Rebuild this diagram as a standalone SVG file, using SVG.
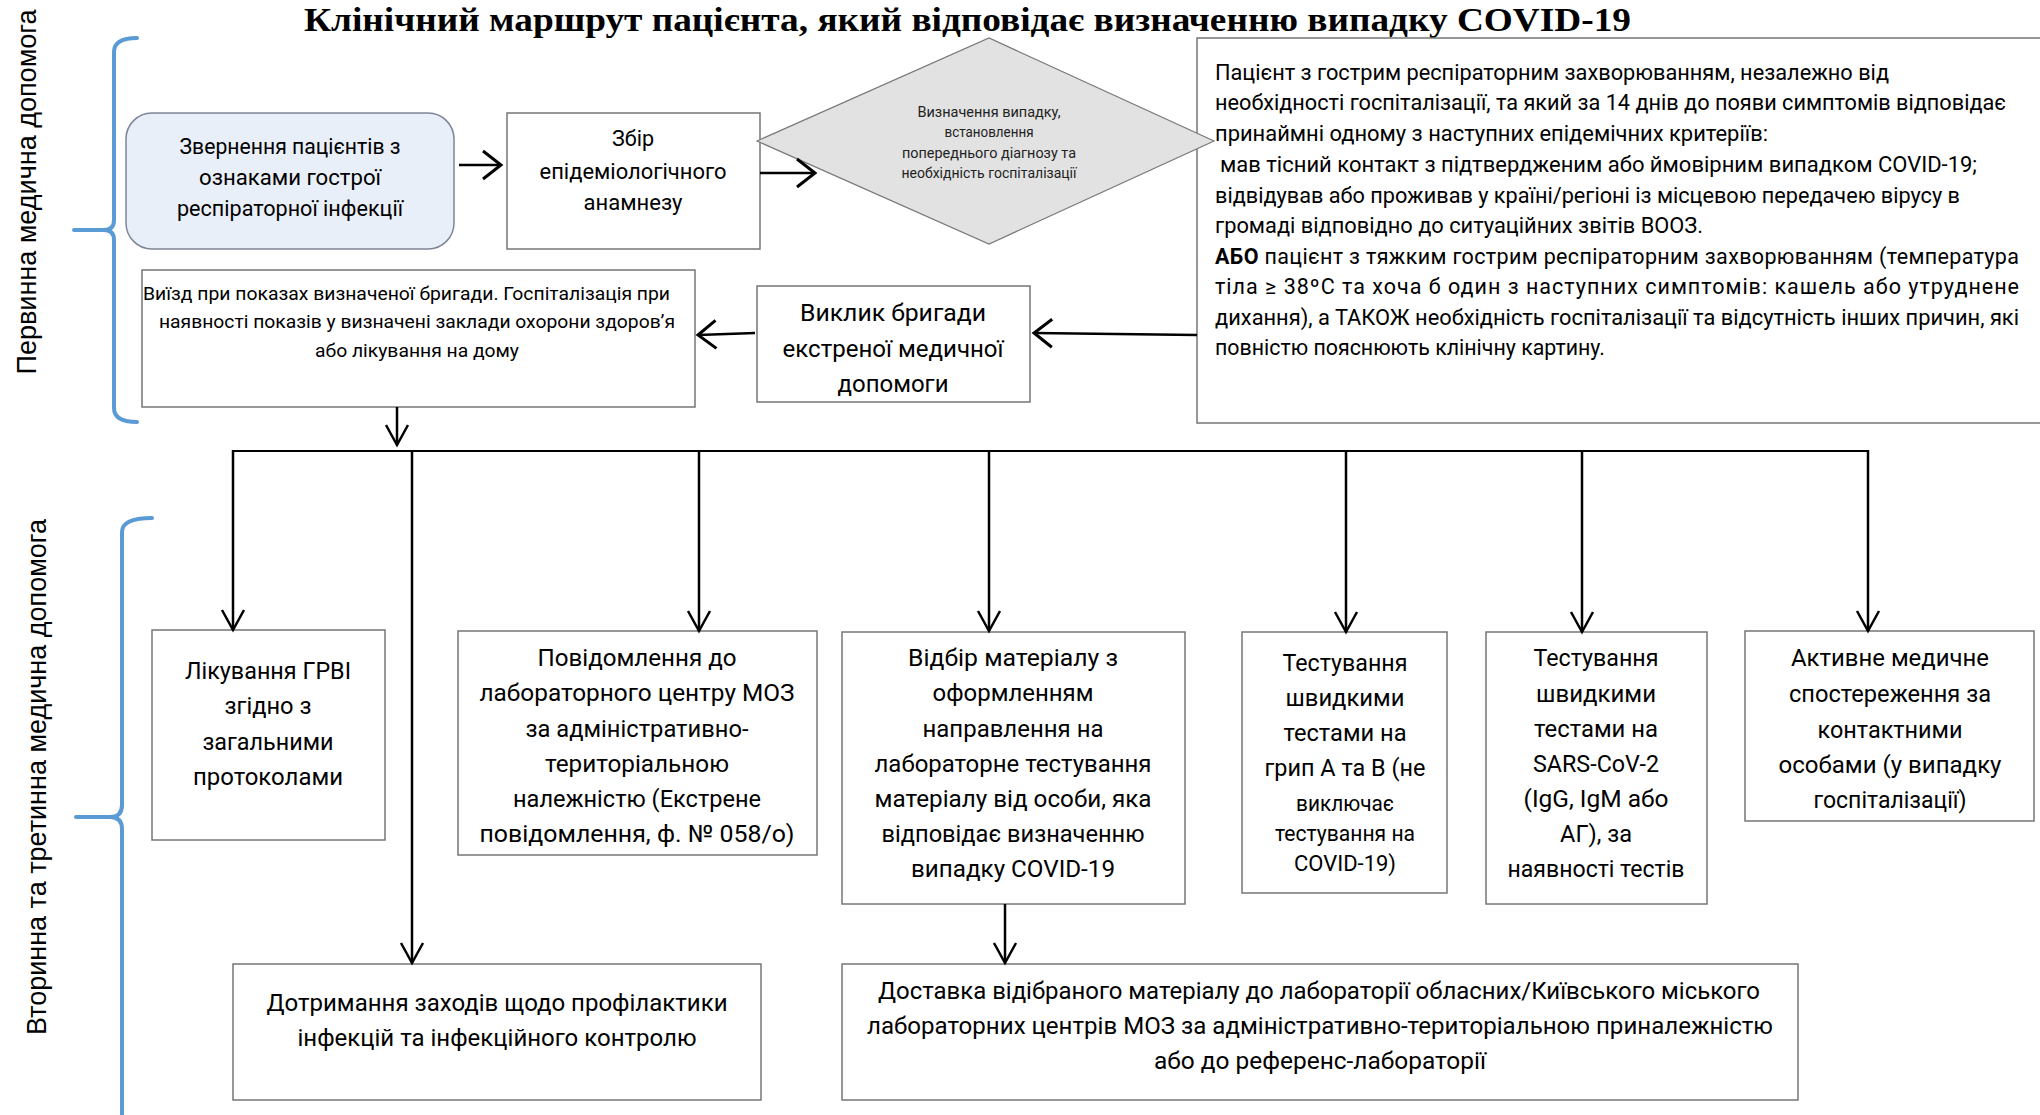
<svg xmlns="http://www.w3.org/2000/svg" width="2040" height="1115" viewBox="0 0 2040 1115">
<defs>
<style>
.box{fill:#fff;stroke:#767676;stroke-width:1.5}
.t{font-family:Roboto,"Liberation Sans",sans-serif;fill:#000;text-anchor:middle}
.s{text-anchor:start}
.f14{font-size:14.5px;fill:#222}
.f18{font-size:18px}
.f21{font-size:21.5px}
.f22{font-size:22px}
.f24{font-size:24px}
.ln{fill:none;stroke:#000;stroke-width:2.5}
.br{fill:none;stroke:#5B9BD5;stroke-width:4;stroke-linecap:round}
.side{font-family:"Liberation Sans",Arial,sans-serif;font-size:27px;fill:#000;text-anchor:middle}
.title{font-family:"Liberation Serif","Times New Roman",serif;font-weight:bold;font-size:33px;fill:#000}
</style>
<marker id="mv" markerUnits="userSpaceOnUse" markerWidth="30" markerHeight="30" refX="21" refY="12" orient="auto" overflow="visible">
<path d="M1,1 L21,12 L1,23" fill="none" stroke="#000" stroke-width="2.5"/>
</marker>
<marker id="mh" markerUnits="userSpaceOnUse" markerWidth="30" markerHeight="34" refX="19" refY="16" orient="auto" overflow="visible">
<path d="M1,2 L19,16 L1,30" fill="none" stroke="#000" stroke-width="3"/>
</marker>
</defs>
<rect x="0" y="0" width="2040" height="1115" fill="#fff"/>

<g id="title">
<text class="title" x="304" y="31" textLength="1327" lengthAdjust="spacingAndGlyphs">Клінічний маршрут пацієнта, який відповідає визначенню випадку COVID-19</text>
</g>

<g id="bracket-primary">
<path class="br" d="M137,38 Q114,38 114,52 L114,220 Q114,230 104,230 L74,230 M104,230 Q114,230 114,240 L114,408 Q114,422 137,422"/>
<text class="side" transform="translate(36,192) rotate(-90)" textLength="365" lengthAdjust="spacingAndGlyphs">Первинна медична допомога</text>
</g>

<g id="bracket-secondary">
<path class="br" d="M152,518 Q122,518 122,532 L122,805 Q122,817 110,817 L76,817 M110,817 Q122,817 122,829 L122,1125"/>
<text class="side" transform="translate(46,777) rotate(-90)" textLength="516" lengthAdjust="spacingAndGlyphs">Вторинна та третинна медична допомога</text>
</g>

<g id="n-zvernennia">
<rect x="126" y="113" width="328" height="136" rx="26" ry="26" fill="#E9EFF8" stroke="#7D8597" stroke-width="1.5"/>
<text class="t f22" x="290" y="154" textLength="221" lengthAdjust="spacingAndGlyphs">Звернення пацієнтів з</text>
<text class="t f22" x="290" y="185" textLength="182" lengthAdjust="spacingAndGlyphs">ознаками  гострої</text>
<text class="t f22" x="290" y="216" textLength="226" lengthAdjust="spacingAndGlyphs">респіраторної інфекції</text>
</g>

<g id="n-zbir">
<rect class="box" x="507" y="113" width="253" height="136"/>
<text class="t f22" x="633" y="146" textLength="42" lengthAdjust="spacingAndGlyphs">Збір</text>
<text class="t f22" x="633" y="179" textLength="187" lengthAdjust="spacingAndGlyphs">епідеміологічного</text>
<text class="t f22" x="633" y="210" textLength="99" lengthAdjust="spacingAndGlyphs">анамнезу</text>
</g>

<g id="n-kryterii">
<rect class="box" x="1197" y="38" width="860" height="385"/>
<text class="t s f21" x="1215" y="80" textLength="674" lengthAdjust="spacingAndGlyphs">Пацієнт з гострим респіраторним захворюванням,  незалежно від</text>
<text class="t s f21" x="1215" y="110" textLength="791" lengthAdjust="spacingAndGlyphs">необхідності госпіталізації, та  який за 14 днів до появи симптомів відповідає</text>
<text class="t s f21" x="1215" y="141" textLength="553" lengthAdjust="spacingAndGlyphs">принаймні одному з наступних епідемічних критеріїв:</text>
<text class="t s f21" x="1220" y="172" textLength="757" lengthAdjust="spacingAndGlyphs">мав тісний контакт з підтвердженим або ймовірним випадком COVID-19;</text>
<text class="t s f21" x="1215" y="203" textLength="745" lengthAdjust="spacingAndGlyphs">відвідував або проживав у країні/регіоні із місцевою передачею вірусу в</text>
<text class="t s f21" x="1215" y="233" textLength="488" lengthAdjust="spacingAndGlyphs">громаді  відповідно до ситуаційних звітів ВООЗ.</text>
<text class="t s f21" x="1215" y="264" textLength="804" lengthAdjust="spacing"><tspan font-weight="bold">АБО</tspan> пацієнт з тяжким гострим респіраторним захворюванням (температура</text>
<text class="t s f21" x="1215" y="294" textLength="804" lengthAdjust="spacing">тіла ≥ 38ºС та хоча б один з наступних симптомів: кашель або утруднене</text>
<text class="t s f21" x="1215" y="325" textLength="804" lengthAdjust="spacingAndGlyphs">дихання), а ТАКОЖ необхідність госпіталізації та відсутність інших причин, які</text>
<text class="t s f21" x="1215" y="355" textLength="390" lengthAdjust="spacingAndGlyphs">повністю пояснюють клінічну картину.</text>
</g>

<g id="n-vyznachennia">
<polygon points="757,141 989,38 1214,141 989,244" fill="#E2E2E2" stroke="#7a7a7a" stroke-width="1.2"/>
<text class="t f14" x="989" y="117" textLength="143" lengthAdjust="spacingAndGlyphs">Визначення випадку,</text>
<text class="t f14" x="989" y="137" textLength="89" lengthAdjust="spacingAndGlyphs">встановлення</text>
<text class="t f14" x="989" y="158" textLength="174" lengthAdjust="spacingAndGlyphs">попереднього діагнозу та</text>
<text class="t f14" x="989" y="178" textLength="175" lengthAdjust="spacingAndGlyphs">необхідність госпіталізації</text>
</g>

<g id="n-vyklyk">
<rect class="box" x="757" y="286" width="273" height="116"/>
<text class="t f24" x="893" y="321" textLength="186" lengthAdjust="spacingAndGlyphs">Виклик  бригади</text>
<text class="t f24" x="893" y="357" textLength="221" lengthAdjust="spacingAndGlyphs">екстреної медичної</text>
<text class="t f24" x="893" y="392" textLength="111" lengthAdjust="spacingAndGlyphs">допомоги</text>
</g>

<g id="n-vyizd">
<rect class="box" x="142" y="270" width="553" height="137"/>
<text class="t s f18" x="143" y="300" textLength="527" lengthAdjust="spacingAndGlyphs">Виїзд при показах визначеної бригади.  Госпіталізація при</text>
<text class="t f18" x="417" y="328" textLength="516" lengthAdjust="spacingAndGlyphs">наявності показів  у визначені заклади охорони здоров’я</text>
<text class="t f18" x="417" y="357" textLength="204" lengthAdjust="spacingAndGlyphs">або лікування на дому</text>
</g>

<g id="n-likuvannia">
<rect class="box" x="152" y="630" width="233" height="210"/>
<text class="t f24" x="268" y="679" textLength="166" lengthAdjust="spacingAndGlyphs">Лікування ГРВІ</text>
<text class="t f24" x="268" y="714" textLength="87" lengthAdjust="spacingAndGlyphs">згідно з</text>
<text class="t f24" x="268" y="750" textLength="131" lengthAdjust="spacingAndGlyphs">загальними</text>
<text class="t f24" x="268" y="785" textLength="150" lengthAdjust="spacingAndGlyphs">протоколами</text>
</g>

<g id="n-povidomlennia">
<rect class="box" x="458" y="631" width="359" height="224"/>
<text class="t f24" x="637" y="666" textLength="199" lengthAdjust="spacingAndGlyphs">Повідомлення до</text>
<text class="t f24" x="637" y="701" textLength="315" lengthAdjust="spacingAndGlyphs">лабораторного центру МОЗ</text>
<text class="t f24" x="637" y="737" textLength="223" lengthAdjust="spacingAndGlyphs">за адміністративно-</text>
<text class="t f24" x="637" y="772" textLength="184" lengthAdjust="spacingAndGlyphs">територіальною</text>
<text class="t f24" x="637" y="807" textLength="248" lengthAdjust="spacingAndGlyphs">належністю (Екстрене</text>
<text class="t f24" x="637" y="842" textLength="315" lengthAdjust="spacingAndGlyphs">повідомлення,  ф. № 058/о)</text>
</g>

<g id="n-vidbir">
<rect class="box" x="842" y="632" width="343" height="272"/>
<text class="t f24" x="1013" y="666" textLength="210" lengthAdjust="spacingAndGlyphs">Відбір матеріалу  з</text>
<text class="t f24" x="1013" y="701" textLength="161" lengthAdjust="spacingAndGlyphs">оформленням</text>
<text class="t f24" x="1013" y="737" textLength="181" lengthAdjust="spacingAndGlyphs">направлення на</text>
<text class="t f24" x="1013" y="772" textLength="277" lengthAdjust="spacingAndGlyphs">лабораторне тестування</text>
<text class="t f24" x="1013" y="807" textLength="277" lengthAdjust="spacingAndGlyphs">матеріалу від особи, яка</text>
<text class="t f24" x="1013" y="842" textLength="263" lengthAdjust="spacingAndGlyphs">відповідає визначенню</text>
<text class="t f24" x="1013" y="877" textLength="204" lengthAdjust="spacingAndGlyphs">випадку COVID-19</text>
</g>

<g id="n-test-grip">
<rect class="box" x="1242" y="632" width="205" height="261"/>
<text class="t f24" x="1345" y="671" textLength="125" lengthAdjust="spacingAndGlyphs">Тестування</text>
<text class="t f24" x="1345" y="706" textLength="119" lengthAdjust="spacingAndGlyphs">швидкими</text>
<text class="t f24" x="1345" y="741" textLength="123" lengthAdjust="spacingAndGlyphs">тестами на</text>
<text class="t f24" x="1345" y="776" textLength="161" lengthAdjust="spacingAndGlyphs">грип А та В (не</text>
<text class="t f21" x="1345" y="811" textLength="98" lengthAdjust="spacingAndGlyphs">виключає</text>
<text class="t f21" x="1345" y="841" textLength="140" lengthAdjust="spacingAndGlyphs">тестування на</text>
<text class="t f21" x="1345" y="871" textLength="102" lengthAdjust="spacingAndGlyphs">COVID-19)</text>
</g>

<g id="n-test-sars">
<rect class="box" x="1486" y="632" width="221" height="272"/>
<text class="t f24" x="1596" y="666" textLength="125" lengthAdjust="spacingAndGlyphs">Тестування</text>
<text class="t f24" x="1596" y="702" textLength="120" lengthAdjust="spacingAndGlyphs">швидкими</text>
<text class="t f24" x="1596" y="737" textLength="124" lengthAdjust="spacingAndGlyphs">тестами на</text>
<text class="t f24" x="1596" y="772" textLength="126" lengthAdjust="spacingAndGlyphs">SARS-CoV-2</text>
<text class="t f24" x="1596" y="807" textLength="145" lengthAdjust="spacingAndGlyphs">(IgG, IgM або</text>
<text class="t f24" x="1596" y="842" textLength="72" lengthAdjust="spacingAndGlyphs">АГ), за</text>
<text class="t f24" x="1596" y="877" textLength="177" lengthAdjust="spacingAndGlyphs">наявності тестів</text>
</g>

<g id="n-aktyvne">
<rect class="box" x="1745" y="631" width="289" height="190"/>
<text class="t f24" x="1890" y="666" textLength="198" lengthAdjust="spacingAndGlyphs">Активне медичне</text>
<text class="t f24" x="1890" y="702" textLength="202" lengthAdjust="spacingAndGlyphs">спостереження за</text>
<text class="t f24" x="1890" y="738" textLength="145" lengthAdjust="spacingAndGlyphs">контактними</text>
<text class="t f24" x="1890" y="773" textLength="223" lengthAdjust="spacingAndGlyphs">особами (у випадку</text>
<text class="t f24" x="1890" y="808" textLength="153" lengthAdjust="spacingAndGlyphs">госпіталізації)</text>
</g>

<g id="n-dotrymannia">
<rect class="box" x="233" y="964" width="528" height="136"/>
<text class="t f24" x="497" y="1011" textLength="461" lengthAdjust="spacingAndGlyphs">Дотримання заходів щодо профілактики</text>
<text class="t f24" x="497" y="1046" textLength="399" lengthAdjust="spacingAndGlyphs">інфекцій та інфекційного контролю</text>
</g>

<g id="n-dostavka">
<rect class="box" x="842" y="964" width="956" height="136"/>
<text class="t f24" x="1319" y="999" textLength="882" lengthAdjust="spacingAndGlyphs">Доставка відібраного матеріалу до лабораторії обласних/Київського міського</text>
<text class="t f24" x="1320" y="1034" textLength="906" lengthAdjust="spacingAndGlyphs">лабораторних центрів МОЗ за адміністративно-територіальною приналежністю</text>
<text class="t f24" x="1320" y="1069" textLength="332" lengthAdjust="spacingAndGlyphs">або до референс-лабораторії</text>
</g>

<g id="connectors" class="ln">
<line x1="459" y1="165" x2="501" y2="165" marker-end="url(#mh)"/>
<line x1="760" y1="173" x2="815" y2="173" marker-end="url(#mh)"/>
<line x1="1197" y1="335" x2="1034" y2="333" marker-end="url(#mh)"/>
<line x1="755" y1="333" x2="698" y2="335" marker-end="url(#mh)"/>
<line x1="397" y1="407" x2="397" y2="445" marker-end="url(#mv)"/>
<line x1="233" y1="451" x2="1869" y2="451" stroke-width="2"/>
<line x1="233" y1="450" x2="233" y2="630" marker-end="url(#mv)"/>
<line x1="412" y1="451" x2="412" y2="963" marker-end="url(#mv)"/>
<line x1="699" y1="451" x2="699" y2="631" marker-end="url(#mv)"/>
<line x1="989" y1="451" x2="989" y2="631" marker-end="url(#mv)"/>
<line x1="1346" y1="451" x2="1346" y2="632" marker-end="url(#mv)"/>
<line x1="1582" y1="451" x2="1582" y2="632" marker-end="url(#mv)"/>
<line x1="1868" y1="450" x2="1868" y2="631" marker-end="url(#mv)"/>
<line x1="1005" y1="904" x2="1005" y2="963" marker-end="url(#mv)"/>
</g>
</svg>
